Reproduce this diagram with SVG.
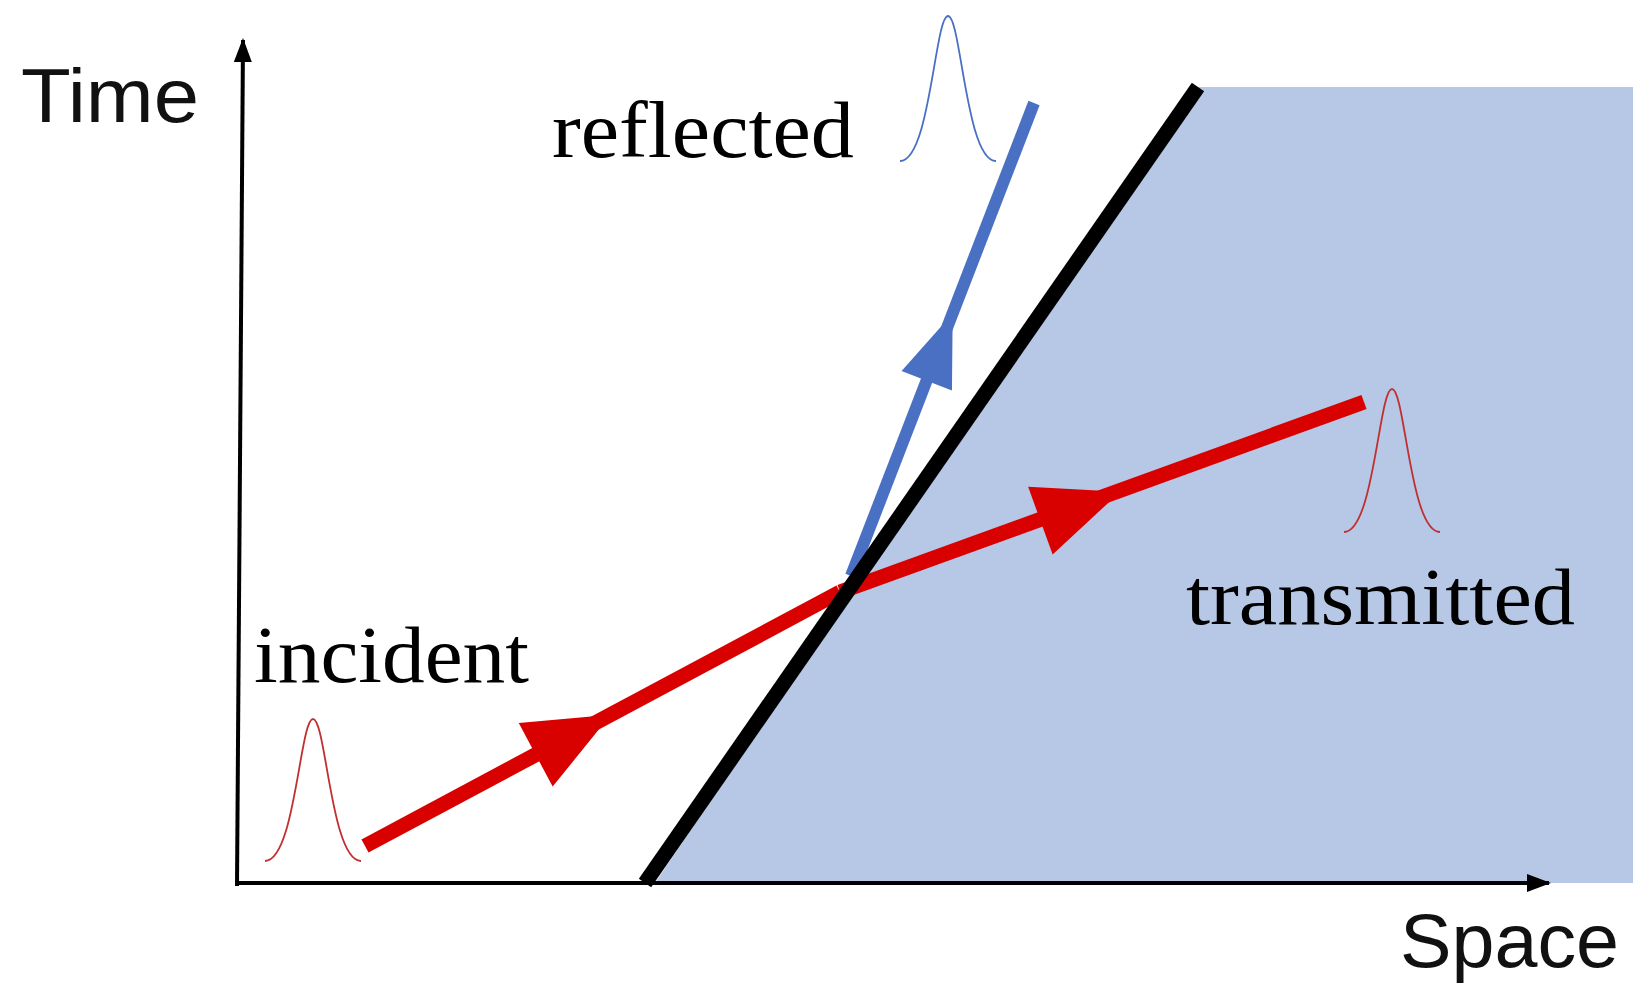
<svg xmlns="http://www.w3.org/2000/svg" width="1649" height="1001" viewBox="0 0 1649 1001">
<style>
.serif{font-family:"Liberation Serif","Times New Roman",serif;font-size:80px;fill:#000}
.sans{font-family:"Liberation Sans",Arial,sans-serif;font-size:76px;fill:#111}
.red{stroke:#d90000;stroke-width:15;fill:none}
.pulse{fill:none;stroke-width:1.8}
</style>
<defs>
<polygon id="head" points="45,0 -40,-36 -40,36"/>
<polygon id="headb" points="38,0 -34,-27 -34,27"/>
<marker id="ax" markerWidth="12" markerHeight="10" refX="10" refY="5" orient="auto" markerUnits="userSpaceOnUse" viewBox="0 0 12 10"><path d="M0,0 L12,5 L0,10 Z" fill="#000"/></marker>
<marker id="ax2" markerWidth="24" markerHeight="18" refX="22" refY="9" orient="auto" markerUnits="userSpaceOnUse" viewBox="0 0 24 18"><path d="M0,0 L24,9 L0,18 Z" fill="#000"/></marker>
</defs>
<rect width="1649" height="1001" fill="#fff"/>
<g id="medium"><polygon points="655,883 1194,87 1633,87 1633,883" fill="#b7c7e6"/></g>
<g id="connectors">
<line x1="237" y1="886" x2="243" y2="40" stroke="#000" stroke-width="4" marker-end="url(#ax2)"/>
<line x1="235" y1="883" x2="1549" y2="883" stroke="#000" stroke-width="4" marker-end="url(#ax2)"/>
<line x1="851" y1="576" x2="1034" y2="103" stroke="#4a70c4" stroke-width="12"/>
<use href="#headb" transform="translate(939,349) rotate(-68.9)" fill="#4a70c4"/>
<line x1="365" y1="846" x2="840" y2="592" class="red"/>
<line x1="840" y1="592" x2="1364" y2="402" class="red"/>
<use href="#head" transform="translate(571,736) rotate(-28.1)" fill="#d90000"/>
<use href="#head" transform="translate(1078,507) rotate(-19.9)" fill="#d90000"/>
<line x1="645" y1="883" x2="1198" y2="87" stroke="#000" stroke-width="15"/>
</g>
<g id="pulses">
<path class="pulse" stroke="#c03030" d="M265,861 C295,861 300,719 313,719 C326,719 331,861 361,861"/>
<path class="pulse" stroke="#4a70c4" d="M900,161 C930,161 935,16 948,16 C961,16 966,161 996,161"/>
<path class="pulse" stroke="#c03030" d="M1344,532 C1374,532 1379,389 1392,389 C1405,389 1410,532 1440,532"/>
</g>
<g id="labels">
<text class="sans" x="21" y="122" textLength="178" lengthAdjust="spacingAndGlyphs">Time</text>
<text class="sans" x="1400" y="967" textLength="219" lengthAdjust="spacingAndGlyphs">Space</text>
<text class="serif" x="552" y="157" textLength="302" lengthAdjust="spacingAndGlyphs">reflected</text>
<text class="serif" x="254" y="682" textLength="275" lengthAdjust="spacingAndGlyphs">incident</text>
<text class="serif" x="1186" y="624" textLength="389" lengthAdjust="spacingAndGlyphs">transmitted</text>
</g>
</svg>
